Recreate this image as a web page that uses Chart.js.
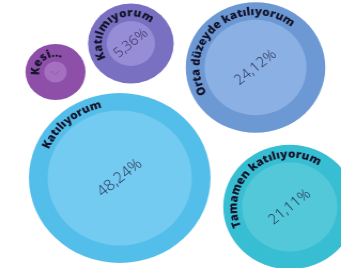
<!DOCTYPE html>
<html lang="tr">
<head>
    <meta charset="UTF-8">
    <title>Katılım dağılımı</title>
    <script src="https://cdn.jsdelivr.net/npm/chart.js"></script>
    <style>
        html, body {
            margin: 0;
            padding: 0;
            background: #fff;
            overflow: hidden;
        }
        #chart {
            display: block;
            width: 319px;
            height: 268px;
            /* the reference is slightly stretched horizontally */
            transform: scaleX(1.069);
            transform-origin: 0 0;
        }
    </style>
</head>
<body>
    <canvas id="chart" width="319" height="268"></canvas>

    <script>
        // data
        const categories = ['Katılıyorum', 'Orta düzeyde katılıyorum', 'Tamamen katılıyorum', 'Katılmıyorum', 'Kesinlikle katılmıyorum']
        const bubbleLabels = ['Katılıyorum', 'Orta düzeyde katılıyorum', 'Tamamen katılıyorum', 'Katılmıyorum', 'Kesi...']
        const shares = [48.24, 24.12, 21.11, 5.36, 1.17]
        const shareLabels = ['48,24%', '24,12%', '21,11%', '5,36%', '1,..']

        // packing layout (chart units) and look
        const centers = [[112, 178], [239, 67.5], [271, 207], [122.4, 43.5], [51.9, 72]]
        const OUTER = ['#54beea', '#6c98d4', '#38bed2', '#7a70c2', '#8d4fa8']
        const INNER = ['#74cbf1', '#8bb1e4', '#52c8d9', '#978dd6', '#a470bf']
        const PCT_SIZE = [15, 14, 14, 13.5, 7]
        const PCT_COLOR = ['#262a4d', '#262a4d', '#262a4d', '#2e2a5a', '#6d4a86']
        const BAND = 17.5

        const radius = v => 9.7 * Math.sqrt(v) + 17.6

        const outerPts = shares.map((v, i) => ({ x: centers[i][0], y: centers[i][1], r: radius(v) }))
        const innerPts = shares.map((v, i) => ({ x: centers[i][0], y: centers[i][1], r: radius(v) - BAND }))

        // curved name + rotated percent
        const bubbleText = {
            id: 'bubbleText',
            afterDatasetsDraw(chart) {
                const ctx = chart.ctx
                const meta = chart.getDatasetMeta(1)
                meta.data.forEach((el, i) => {
                    const cx = el.x, cy = el.y
                    const r = outerPts[i].r

                    // name along the ring, centred at upper-left
                    ctx.save()
                    ctx.fillStyle = '#14142a'
                    ctx.font = "800 11px 'Open Sans'"
                    ctx.textAlign = 'center'
                    ctx.textBaseline = 'alphabetic'
                    const R = r - BAND / 2 - 4
                    const text = bubbleLabels[i]
                    const total = ctx.measureText(text).width
                    let a = 230 * Math.PI / 180 - total / R / 2
                    for (const ch of text) {
                        const w = ctx.measureText(ch).width
                        const mid = a + (w / 2) / R
                        ctx.save()
                        ctx.translate(cx + R * Math.cos(mid), cy + R * Math.sin(mid))
                        ctx.rotate(mid + Math.PI / 2)
                        ctx.fillText(ch, 0, 0)
                        ctx.restore()
                        a += w / R
                    }
                    ctx.restore()

                    // percent in the middle
                    ctx.save()
                    ctx.translate(cx, cy)
                    ctx.rotate(-40 * Math.PI / 180)
                    ctx.fillStyle = PCT_COLOR[i]
                    ctx.font = `300 ${PCT_SIZE[i]}px 'Open Sans'`
                    ctx.textAlign = 'center'
                    ctx.textBaseline = 'middle'
                    ctx.fillText(shareLabels[i], 0, 0)
                    ctx.restore()
                })
            }
        }

        const chart = new Chart(document.getElementById('chart'), {
            type: 'bubble',
            data: {
                labels: categories,
                datasets: [
                    // dataset 0 is painted on top
                    { label: 'iç', data: innerPts, backgroundColor: INNER, borderWidth: 0, hoverRadius: 0 },
                    { label: 'dış', data: outerPts, backgroundColor: OUTER, borderWidth: 0, hoverRadius: 0 }
                ]
            },
            options: {
                responsive: false,
                animation: false,
                layout: { padding: 0, autoPadding: false },
                clip: false,
                scales: {
                    x: { display: false, min: 0, max: 319 },
                    y: { display: false, min: 0, max: 268, reverse: true }
                },
                plugins: {
                    legend: { display: false },
                    tooltip: { enabled: false }
                }
            },
            plugins: [bubbleText]
        })
    </script>
</body>
</html>
